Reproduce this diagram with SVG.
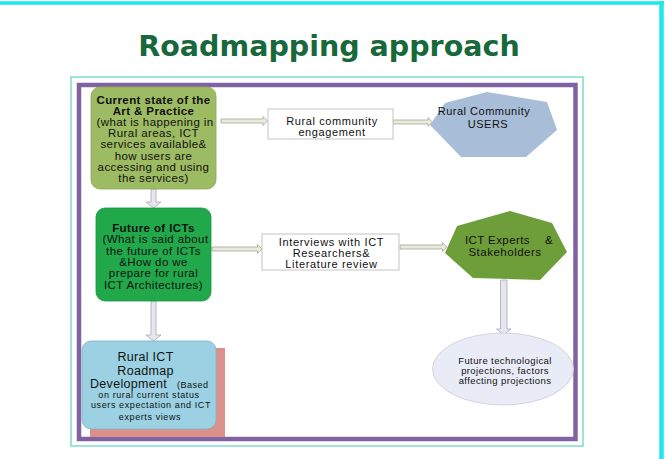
<svg xmlns="http://www.w3.org/2000/svg" width="666" height="459" viewBox="0 0 666 459">
<style>
.t{font-family:"Liberation Sans",Arial,sans-serif;fill:#111111;text-anchor:middle}
.b1{font-size:11.5px;letter-spacing:0.4px}
.bold{font-weight:bold}
.ha{fill:#e8eadc;stroke:#a4a69c;stroke-width:0.8}
.va{fill:#e6e6f0;stroke:#a8a8b4;stroke-width:0.8}
.lbl{fill:#ffffff;stroke:#c4c4c4;stroke-width:1}
</style>
<rect x="0" y="0" width="666" height="459" fill="#ffffff"/>
<line x1="0" y1="3" x2="664" y2="3" stroke="#1ee8ee" stroke-width="3.5"/>
<line x1="661.5" y1="1" x2="661.5" y2="459" stroke="#1ee8ee" stroke-width="4.5"/>
<text x="329" y="56" font-family="'DejaVu Sans',Verdana,sans-serif" font-weight="bold" font-size="28.5" fill="#17683a" text-anchor="middle">Roadmapping approach</text>
<rect x="71" y="77" width="512" height="369" fill="none" stroke="#7fdcc8" stroke-width="1.5"/>
<rect x="79" y="85" width="496.5" height="354" fill="none" stroke="#8064a2" stroke-width="4.5"/>

<g id="connectors">
<polygon class="ha" points="221,119 263,119 263,116.5 267.5,121 263,125.5 263,123 221,123"/>
<polygon class="ha" points="393,120 428,120 428,117.5 432.5,122 428,126.5 428,124 393,124"/>
<polygon class="ha" points="212,247 257.5,247 257.5,244.5 262,249 257.5,253.5 257.5,251 212,251"/>
<polygon class="ha" points="400,245 442.5,245 442.5,242.5 447,247 442.5,251.5 442.5,249 400,249"/>
<polygon class="va" points="151,189 156,189 156,202 161,202 153.5,208 146,202 151,202"/>
<polygon class="va" points="151,301 156,301 156,335 161,335 153.5,341 146,335 151,335"/>
<polygon class="va" points="500.5,280 507,280 507,329 511,329 503.75,335 496.5,329 500.5,329"/>
</g>

<g id="current-state">
<rect x="91" y="87" width="125" height="102" rx="9" fill="#9dbb62" stroke="#8aa855" stroke-width="0.8"/>
<text class="t b1 bold" x="153.5" y="103.5">Current state of the</text>
<text class="t b1 bold" x="153.5" y="114.7">Art &amp; Practice</text>
<text class="t b1" x="155" y="125.9">(what is happening in</text>
<text class="t b1" x="153.5" y="137.1">Rural areas, ICT</text>
<text class="t b1" x="153.5" y="148.3">services available&amp;</text>
<text class="t b1" x="153.5" y="159.5">how users are</text>
<text class="t b1" x="153.5" y="170.7">accessing and using</text>
<text class="t b1" x="153.5" y="181.9">the services)</text>
</g>

<g id="future-icts">
<rect x="96" y="208" width="115" height="93" rx="9" fill="#20a84b" stroke="#1b9441" stroke-width="0.8"/>
<text class="t b1 bold" x="153.5" y="232">Future of ICTs</text>
<text class="t b1" x="155.5" y="243.3">(What is said about</text>
<text class="t b1" x="153.5" y="254.6">the future of ICTs</text>
<text class="t b1" x="153.5" y="265.9">&amp;How do we</text>
<text class="t b1" x="153.5" y="277.2">prepare for rural</text>
<text class="t b1" x="153.5" y="288.5">ICT Architectures)</text>
</g>

<g id="roadmap">
<rect x="90" y="348" width="135" height="89" fill="#d9918a"/>
<rect x="82" y="341" width="134" height="88" rx="9" fill="#9bd1e3" stroke="#7fb2c8" stroke-width="0.8"/>
<text class="t" x="145.5" y="360.5" font-size="12.5" letter-spacing="0.3">Rural ICT</text>
<text class="t" x="145.5" y="374.5" font-size="12.5" letter-spacing="0.3">Roadmap</text>
<text class="t" x="90" y="387.5" font-size="12.5" letter-spacing="0.3" style="text-anchor:start">Development</text>
<text class="t" x="177" y="387.5" font-size="9" letter-spacing="0.5" style="text-anchor:start">(Based</text>
<text class="t" x="149" y="397.5" font-size="9" letter-spacing="0.6">on rural current status</text>
<text class="t" x="151" y="407.5" font-size="9" letter-spacing="0.6">users expectation and ICT</text>
<text class="t" x="150" y="419.5" font-size="9" letter-spacing="0.6">experts views</text>
</g>

<g id="engagement">
<rect class="lbl" x="268" y="109" width="125" height="30"/>
<text class="t" x="332" y="125" font-size="11" letter-spacing="0.6">Rural community</text>
<text class="t" x="332" y="136" font-size="11" letter-spacing="0.6">engagement</text>
</g>

<g id="users">
<polygon points="487,92 547,102 557,130 526,157 461,157 430,125 445,103" fill="#a8bdd8"/>
<text class="t" x="484" y="115" font-size="11" letter-spacing="0.5">Rural Community</text>
<text class="t" x="488" y="128" font-size="11" letter-spacing="0.5">USERS</text>
</g>

<g id="interviews">
<rect class="lbl" x="262" y="234" width="137" height="36"/>
<text class="t" x="331.5" y="246" font-size="11" letter-spacing="0.65">Interviews with ICT</text>
<text class="t" x="331.5" y="257" font-size="11" letter-spacing="0.65">Researchers&amp;</text>
<text class="t" x="331.5" y="267.5" font-size="11" letter-spacing="0.65">Literature review</text>
</g>

<g id="experts">
<polygon points="510,211 552,223 567,252 540,280 473,278 445,253 457,226" fill="#6e9e3a"/>
<text class="t" x="465" y="244" font-size="11.5" letter-spacing="0.4" style="text-anchor:start">ICT Experts</text>
<text class="t" x="545" y="244" font-size="11.5" style="text-anchor:start">&amp;</text>
<text class="t" x="505" y="256" font-size="11.5" letter-spacing="0.5">Stakeholders</text>
</g>

<g id="projections">
<ellipse cx="503" cy="369" rx="70.5" ry="36" fill="#e9ecf7" stroke="#c9cdd9" stroke-width="0.8"/>
<text class="t" x="505" y="364" font-size="9.5" letter-spacing="0.4">Future technological</text>
<text class="t" x="505" y="374" font-size="9.5" letter-spacing="0.4">projections, factors</text>
<text class="t" x="505" y="383.5" font-size="9.5" letter-spacing="0.4">affecting projections</text>
</g>
</svg>
